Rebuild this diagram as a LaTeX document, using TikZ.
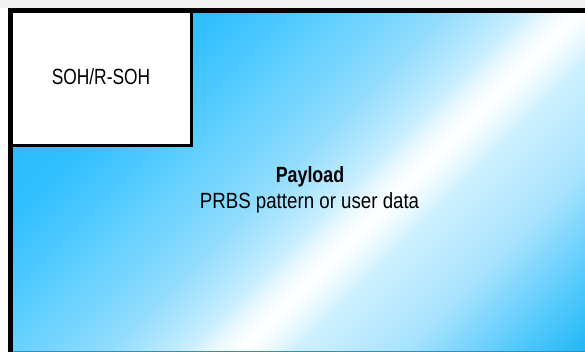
\documentclass[tikz,border=0pt]{standalone}
\usepackage{fontspec}
\setmainfont{Liberation Sans}
\newfontfamily\sohfont{Liberation Sans}[FakeStretch=0.79]
\newfontfamily\plfont{Liberation Sans}[FakeStretch=0.85]
\newfontfamily\plbfont{Liberation Sans}[FakeStretch=0.81]
\definecolor{topgray}{HTML}{F2F2F2}
\definecolor{edgeline}{HTML}{3A8CB8}
\definecolor{gA}{HTML}{28B9FB}
\definecolor{gB}{HTML}{2FBCFD}
\definecolor{gC}{HTML}{33C0FF}
\definecolor{gD}{HTML}{60CFFF}
\definecolor{gE}{HTML}{90DCFD}
\definecolor{gF}{HTML}{C8EEFE}
\definecolor{gG}{HTML}{EEFAFF}
\definecolor{gH}{HTML}{CDF0FE}
\definecolor{gI}{HTML}{A8E3FE}
\definecolor{gJ}{HTML}{55C9FC}
\definecolor{gK}{HTML}{18B3F3}
\definecolor{gL}{HTML}{12B0F0}
\pgfdeclarehorizontalshading{payloadgrad}{100bp}{%
  color(0bp)=(gA);
  color(35.86bp)=(gA);
  color(39.52bp)=(gB);
  color(41.04bp)=(gC);
  color(43.81bp)=(gD);
  color(46.59bp)=(gE);
  color(48.61bp)=(gF);
  color(49.37bp)=(gG);
  color(50bp)=(white);
  color(50.63bp)=(gG);
  color(51.39bp)=(gH);
  color(54.09bp)=(gI);
  color(56.82bp)=(gJ);
  color(59.07bp)=(gK);
  color(60.61bp)=(gL);
  color(100bp)=(gL)}
\tikzset{
  frameline/.style={line width=5pt, draw=black},
  sohbox/.style={line width=3pt, draw=black, fill=white},
  sohtext/.style={anchor=base, inner sep=0pt, text=black, font=\sohfont\fontsize{22}{26}\selectfont},
  pltitle/.style={anchor=base, inner sep=0pt, text=black, font=\plbfont\bfseries\fontsize{22}{26}\selectfont},
  pltext/.style={anchor=base, inner sep=0pt, text=black, font=\plfont\fontsize{22}{26}\selectfont}
}
\begin{document}
\begin{tikzpicture}[x=1pt,y=1pt]
\useasboundingbox (0,0) rectangle (585,-352);
\fill[white] (0,0) rectangle (585,-352);
\fill[topgray] (0,0) rectangle (585,-8);
% payload gradient
\begin{scope}
  \clip (13,-13) rectangle (585,-352);
  \begin{scope}[transform canvas={shift={(413,-178)},rotate=-45}]
    \shade[shading=payloadgrad] (-700,-700) rectangle (700,700);
  \end{scope}
\end{scope}
\draw[edgeline, line width=1pt] (13,-351.5) -- (585,-351.5);
% SOH box
\draw[sohbox] (10.5,-10.5) rectangle (191.5,-145.5);
% outer frame (open to the right and bottom)
\draw[frameline] (10.5,-360) -- (10.5,-10.5) -- (600,-10.5);
% texts
\node[sohtext] (soh) at (101,-85) {SOH/R-SOH};
\node[pltitle] (payload) at (310,-182.3) {Payload};
\node[pltext] (prbs) at (309.5,-208.5) {PRBS pattern or user data};
\end{tikzpicture}
\end{document}
